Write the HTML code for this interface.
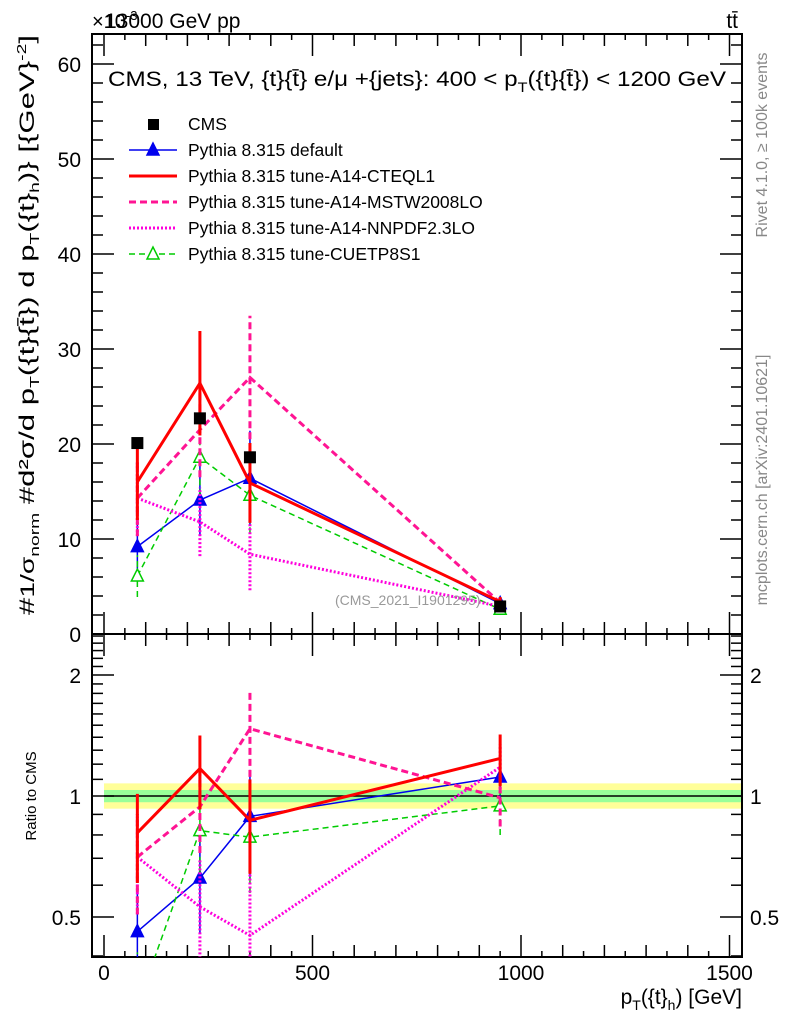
<!DOCTYPE html>
<html><head><meta charset="utf-8"><style>
html,body{margin:0;padding:0;width:786px;height:1024px;overflow:hidden;background:#fff}
svg{display:block;font-family:"Liberation Sans",sans-serif}
</style></head><body>
<svg id="c" width="786" height="1024" viewBox="0 0 786 1024" xmlns="http://www.w3.org/2000/svg">
<rect width="786" height="1024" fill="#fff"/>
<g id="ratioBand"></g>
<g id="axes"></g>
<g id="series"></g>
<text x="92" y="28" font-size="20">×10<tspan font-size="13" dy="-8">-3</tspan></text>
<text x="105" y="28" font-size="21">13000 GeV pp</text>
<text x="738" y="28" font-size="21" text-anchor="end">tt̄</text>
<text x="108" y="86" font-size="21" textLength="618" lengthAdjust="spacingAndGlyphs">CMS, 13 TeV, {t}{t̄} e/μ +{jets}: 400 &lt;  p<tspan font-size="14" dy="6">T</tspan><tspan dy="-6">({t}{t̄}) &lt; 1200 GeV</tspan></text>
<text x="335" y="605" font-size="14" fill="#999">(CMS_2021_I1901295)</text>
<text transform="translate(767,145) rotate(-90)" font-size="16" fill="#888" text-anchor="middle">Rivet 4.1.0, ≥ 100k events</text>
<text transform="translate(767,480) rotate(-90)" font-size="16" fill="#888" text-anchor="middle">mcplots.cern.ch [arXiv:2401.10621]</text>
<text transform="translate(34,325) rotate(-90)" font-size="21" text-anchor="middle" textLength="580" lengthAdjust="spacingAndGlyphs">#<tspan font-size="19">1/σ</tspan><tspan font-size="13" dy="5">norm</tspan><tspan dy="-5"> #d²σ/d p</tspan><tspan font-size="13" dy="5">T</tspan><tspan dy="-5">({t}{t̄}) d p</tspan><tspan font-size="13" dy="5">T</tspan><tspan dy="-5">({t}</tspan><tspan font-size="13" dy="5">h</tspan><tspan dy="-5">)} [{GeV}</tspan><tspan font-size="13" dy="-8">-2</tspan><tspan dy="8">]</tspan></text>
<text transform="translate(36,796) rotate(-90)" font-size="15" text-anchor="middle">Ratio to CMS</text>
<text x="742" y="1004" font-size="21" text-anchor="end">p<tspan font-size="14" dy="6">T</tspan><tspan dy="-6">({t}</tspan><tspan font-size="14" dy="6">h</tspan><tspan dy="-6">) [GeV]</tspan></text>
<g id="legend"></g>
</svg>
<script>
const xs = [80, 230, 350, 950];
const seriesNames = ["default","CTEQL1","MSTW","NNPDF","CUETP8S1"];
const cmsVals = [20.1, 22.7, 18.6, 2.9];
const cmsErr = [0.5, 0.5, 0.5, 0.2];
const defVals = [9.2, 14.1, 16.4, 3.2];
const defErr = [2.8, 3.8, 5.0, 0.4];
const cteqVals = [16.0, 26.4, 15.9, 3.4];
const cteqErr = [4.0, 5.5, 4.2, 0.5];
const mstwVals = [14.3, 21.5, 27.0, 3.3];
const mstwErr = [4.0, 5.0, 6.5, 0.5];
const nnpdfVals = [14.3, 11.8, 8.4, 2.9];
const nnpdfErr = [4.0, 3.6, 3.8, 0.4];
const cuetVals = [6.1, 18.6, 14.6, 2.6];
const cuetErr = [2.2, 4.0, 4.0, 0.4];
const defRatio = [0.46, 0.625, 0.89, 1.115];
const cteqRatio = [0.81, 1.17, 0.87, 1.24];
const mstwRatio = [0.705, 0.94, 1.47, 0.99];
const nnpdfRatio = [0.705, 0.53, 0.45, 1.18];
const cuetRatio = [0.30, 0.82, 0.79, 0.945];
const yTicks = [0, 10, 20, 30, 40, 50, 60];
const xTicks = [0, 500, 1000, 1500];
const rTicks = [0.5, 1, 2];

const NS = "http://www.w3.org/2000/svg";
const L = 92, R = 742, T = 34, B = 634, RB = 957;
const xS = v => 104 + v * 0.417;
const yS = v => B - v * 9.5;
const rS = v => 796 - 402 * Math.log10(v);
function mk(tag, attrs, parent) {
  const e = document.createElementNS(NS, tag);
  for (const k in attrs) e.setAttribute(k, attrs[k]);
  parent.appendChild(e); return e;
}
const axes = document.getElementById('axes');
const band = document.getElementById('ratioBand');
let b1 = mk('rect', {x: L+12, y: rS(1.075), width: R-L-12, height: rS(0.93)-rS(1.075), fill: '#ffff99'}, band);


let b2 = mk('rect', {x: L+12, y: rS(1.035), width: R-L-12, height: rS(0.965)-rS(1.035), fill: '#99ff99'}, band);


let ln = mk('line', {x1: L+12, x2: R, y1: rS(1), y2: rS(1), stroke: '#000', 'stroke-width': 1.5}, band);


let f1 = mk('rect', {x: L, y: T, width: R-L, height: B-T, fill: 'none', stroke: '#000', 'stroke-width': 2}, axes);


let f2 = mk('rect', {x: L, y: B, width: R-L, height: RB-B, fill: 'none', stroke: '#000', 'stroke-width': 2}, axes);


for (let v = 0; v <= 1500; v += 50) {
  const len = v % 500 === 0 ? 22 : (v % 100 === 0 ? 12 : 6);
  const x = xS(v);
  [[B, -1], [T, 1], [RB, -1], [B, 1]].forEach(([y0, d]) => {
    let t = mk('line', {x1: x, x2: x, y1: y0, y2: y0 + d*len, stroke: '#000', 'stroke-width': 1.5}, axes);
    
    
  });
}
xTicks.forEach(v => {
  let t = mk('text', {x: xS(v), y: 980, 'font-size': 21, 'text-anchor': 'middle'}, axes);
  t.textContent = v;
  
  
});
for (let v = 0; v <= 62; v += 2) {
  const len = v % 10 === 0 ? 22 : 11;
  const y = yS(v);
  [[L, 1], [R, -1]].forEach(([x0, d]) => {
    let t = mk('line', {x1: x0, x2: x0 + d*len, y1: y, y2: y, stroke: '#000', 'stroke-width': 1.5}, axes);
    
    
  });
}
yTicks.forEach(v => {
  let t = mk('text', {x: 81, y: yS(v) + 8, 'font-size': 21, 'text-anchor': 'end'}, axes);
  t.textContent = v;
  
  
});
const rMinor = [0.4,0.5,0.6,0.7,0.8,0.9,1,1.1,1.2,1.3,1.4,1.5,1.6,1.7,1.8,1.9,2,2.1,2.2,2.3,2.4,2.5];
rMinor.forEach(v => {
  const major = rTicks.indexOf(v) >= 0;
  const y = rS(v);
  if (y < B || y > RB) return;
  [[L, 1], [R, -1]].forEach(([x0, d]) => {
    let t = mk('line', {x1: x0, x2: x0 + d*(major ? 22 : 11), y1: y, y2: y, stroke: '#000', 'stroke-width': 1.5}, axes);
    
    
  });
});
rTicks.forEach(v => {
  let t = mk('text', {x: 81, y: rS(v) + 8, 'font-size': 21, 'text-anchor': 'end'}, axes);
  t.textContent = v;
  
  
  let t2 = mk('text', {x: 750, y: rS(v) + 8, 'font-size': 21}, axes);
  t2.textContent = v;
  
  
});
const ser = document.getElementById('series');
const defs = [
  {n: 'pythia-default', vals: defVals, err: defErr, ratio: defRatio, c: '#0000ee', w: 1.5, dash: '', mk: 'tri'},
  {n: 'pythia-cuetp8s1', vals: cuetVals, err: cuetErr, ratio: cuetRatio, c: '#00cc00', w: 1.5, dash: '6,4', mk: 'otri'},
  {n: 'pythia-nnpdf', vals: nnpdfVals, err: nnpdfErr, ratio: nnpdfRatio, c: '#ff00dd', w: 3, dash: '2,2', mk: ''},
  {n: 'pythia-mstw', vals: mstwVals, err: mstwErr, ratio: mstwRatio, c: '#ff1493', w: 3, dash: '7,4', mk: ''},
  {n: 'pythia-cteql1', vals: cteqVals, err: cteqErr, ratio: cteqRatio, c: '#ff0000', w: 3, dash: '', mk: ''}
];
const clipR = mk('clipPath', {id: 'clipR'}, ser);
mk('rect', {x: L, y: B, width: R-L, height: RB-B}, clipR);
function drawMarker(g, type, x, y, c) {
  if (type === 'tri' || type === 'otri') {
    let p = mk('polygon', {points: `${x},${y-7} ${x-6},${y+5} ${x+6},${y+5}`, fill: type === 'tri' ? c : '#fff', stroke: c, 'stroke-width': 1.5}, g);
    
    
  }
}
defs.forEach(s => {
  const g = mk('g', {}, ser);
  
  
  const pts = xs.map((x, i) => [xS(x), yS(s.vals[i])]);
  let pl = mk('polyline', {points: pts.map(p => p.join(',')).join(' '), fill: 'none', stroke: s.c, 'stroke-width': s.w, 'stroke-dasharray': s.dash}, g);
  
  
  xs.forEach((x, i) => {
    const X = xS(x);
    let e = mk('line', {x1: X, x2: X, y1: yS(s.vals[i] - s.err[i]), y2: yS(s.vals[i] + s.err[i]), stroke: s.c, 'stroke-width': s.w, 'stroke-dasharray': s.dash}, g);
    
    
    drawMarker(g, s.mk, X, yS(s.vals[i]), s.c);
  });
  const g2 = mk('g', {'clip-path': 'url(#clipR)'}, ser);
  
  
  const rp = xs.map((x, i) => [xS(x), rS(s.ratio[i])]);
  let rl = mk('polyline', {points: rp.map(p => p.join(',')).join(' '), fill: 'none', stroke: s.c, 'stroke-width': s.w, 'stroke-dasharray': s.dash}, g2);
  
  
  xs.forEach((x, i) => {
    const X = xS(x), rel = s.err[i] / s.vals[i];
    let e = mk('line', {x1: X, x2: X, y1: rS(Math.max(0.05, s.ratio[i] * (1 - rel))), y2: rS(s.ratio[i] * (1 + rel)), stroke: s.c, 'stroke-width': s.w, 'stroke-dasharray': s.dash}, g2);
    
    
    drawMarker(g2, s.mk, X, rS(s.ratio[i]), s.c);
  });
});
const gc = mk('g', {}, ser);


xs.forEach((x, i) => {
  let r = mk('rect', {x: xS(x) - 6, y: yS(cmsVals[i]) - 6, width: 12, height: 12, fill: '#000'}, gc);
  
  
});
const lg = document.getElementById('legend');
const legItems = [
  {t: 'CMS', c: '#000', w: 0, dash: '', m: 'sq'},
  {t: 'Pythia 8.315 default', c: '#0000ee', w: 1.5, dash: '', m: 'tri'},
  {t: 'Pythia 8.315 tune-A14-CTEQL1', c: '#ff0000', w: 3, dash: '', m: ''},
  {t: 'Pythia 8.315 tune-A14-MSTW2008LO', c: '#ff1493', w: 3, dash: '7,4', m: ''},
  {t: 'Pythia 8.315 tune-A14-NNPDF2.3LO', c: '#ff00dd', w: 3, dash: '2,2', m: ''},
  {t: 'Pythia 8.315 tune-CUETP8S1', c: '#00cc00', w: 1.5, dash: '6,4', m: 'otri'}
];
legItems.forEach((it, i) => {
  const y = 124 + i * 26;
  const g = mk('g', {}, lg);
  
  
  if (it.m === 'sq') mk('rect', {x: 148, y: y - 5, width: 11, height: 11, fill: '#000'}, g);
  else mk('line', {x1: 129, x2: 177, y1: y, y2: y, stroke: it.c, 'stroke-width': it.w, 'stroke-dasharray': it.dash}, g);
  drawMarker(g, it.m, 153, y, it.c);
  const t = mk('text', {x: 188, y: y + 6, 'font-size': 17.5}, g);
  t.textContent = it.t;
});
</script>
</body></html>
